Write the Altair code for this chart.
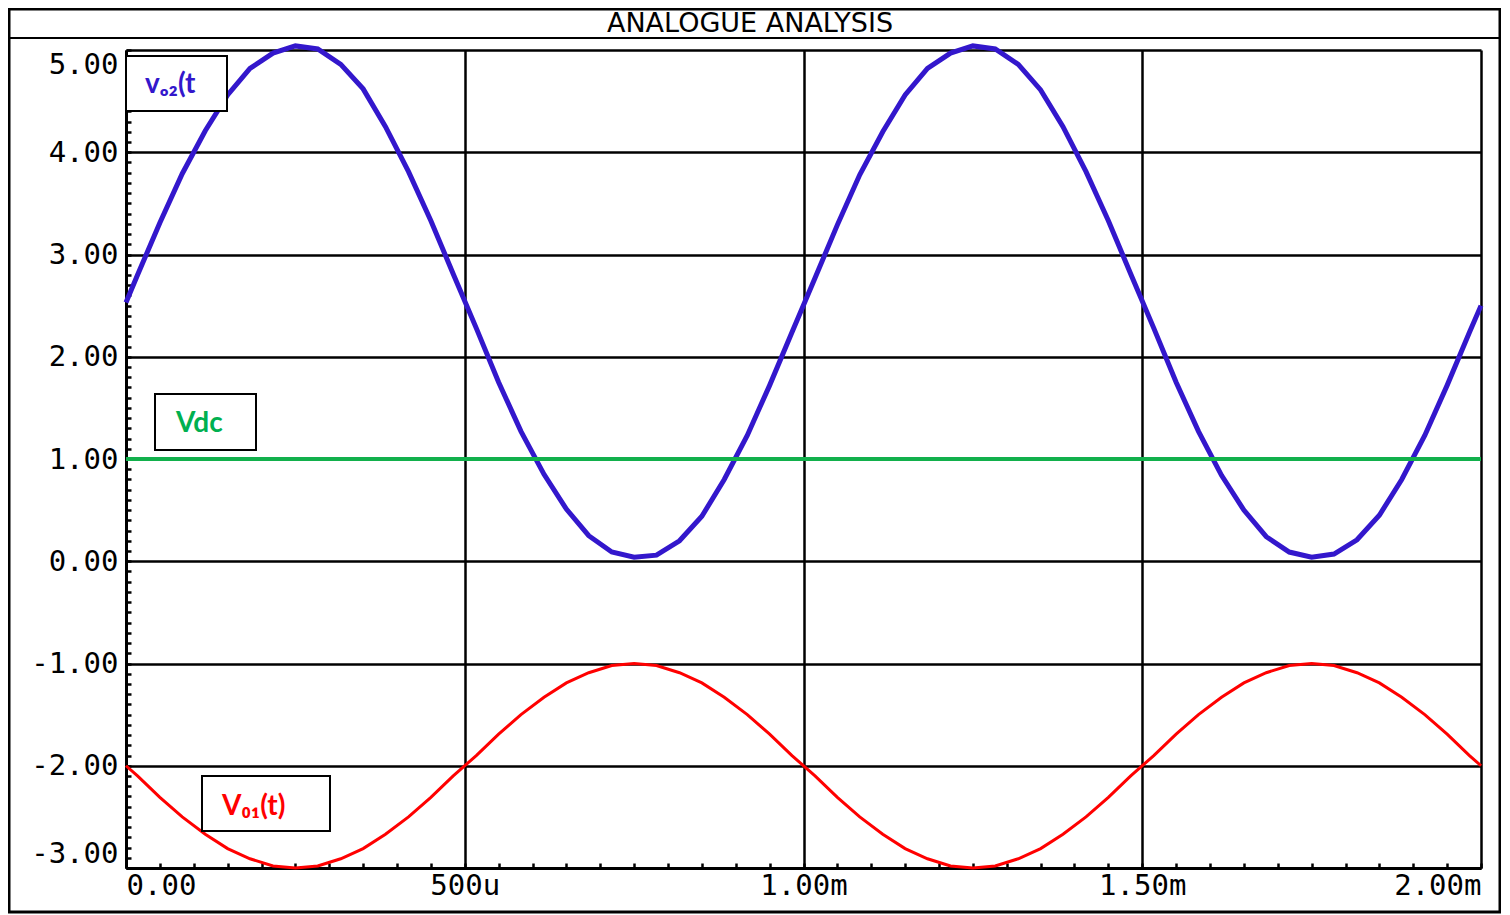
import altair as alt
import pandas as pd

# ---------------- data ----------------
TITLE = "ANALOGUE ANALYSIS"

t_ms = [0.0, 0.017, 0.05, 0.083, 0.117, 0.15, 0.183, 0.217, 0.25, 0.283, 0.317, 0.35, 0.383, 0.417,
        0.45, 0.483, 0.517, 0.55, 0.583, 0.617, 0.65, 0.683, 0.717, 0.75, 0.783, 0.817, 0.85, 0.883,
        0.917, 0.95, 0.983, 1.017, 1.05, 1.083, 1.117, 1.15, 1.183, 1.217, 1.25, 1.283, 1.317, 1.35,
        1.383, 1.417, 1.45, 1.483, 1.517, 1.55, 1.583, 1.617, 1.65, 1.683, 1.717, 1.75, 1.783, 1.817,
        1.85, 1.883, 1.917, 1.95, 1.983, 2.0]

vo2 = [2.53, 2.80, 3.31, 3.79, 4.21, 4.56, 4.82, 4.97, 5.04, 5.01, 4.86, 4.62, 4.25, 3.81,
       3.33, 2.81, 2.28, 1.75, 1.27, 0.85, 0.51, 0.25, 0.09, 0.04, 0.06, 0.20, 0.44, 0.80,
       1.23, 1.72, 2.24, 2.77, 3.29, 3.78, 4.20, 4.56, 4.82, 4.97, 5.04, 5.01, 4.86, 4.61,
       4.25, 3.81, 3.33, 2.81, 2.28, 1.75, 1.27, 0.84, 0.50, 0.24, 0.09, 0.04, 0.07, 0.21,
       0.45, 0.80, 1.23, 1.72, 2.24, 2.50]

vo1 = [-2.00, -2.10, -2.31, -2.50, -2.67, -2.81, -2.91, -2.98, -3.00, -2.98, -2.91, -2.81, -2.67, -2.50,
       -2.31, -2.10, -1.90, -1.69, -1.50, -1.33, -1.19, -1.09, -1.02, -1.00, -1.02, -1.09, -1.19, -1.33,
       -1.50, -1.69, -1.90, -2.10, -2.31, -2.50, -2.67, -2.81, -2.91, -2.98, -3.00, -2.98, -2.91, -2.81,
       -2.67, -2.50, -2.31, -2.10, -1.90, -1.69, -1.50, -1.33, -1.19, -1.09, -1.02, -1.00, -1.02, -1.09,
       -1.19, -1.33, -1.50, -1.69, -1.90, -2.00]

vdc_t = [0.0, 2.0]
vdc = [1.0, 1.0]

x_major = [0, 0.5, 1.0, 1.5, 2.0]
y_major = [-3, -2, -1, 0, 1, 2, 3, 4, 5]
x_minor = [round(0.05 * i, 2) for i in range(41)]
y_minor = [round(-3 + 0.1 * i, 1) for i in range(81)]

LBL_VO2 = "v\u2092\u2082(t"
LBL_VDC = "Vdc"
LBL_VO1 = "V\u2080\u2081(t)"

# ---------------- styling ----------------
BLUE = "#3317cc"
RED = "#ff0000"
GREEN = "#12b04c"
MONO = "DejaVu Sans Mono"
SANS = "Lato, Noto Sans, DejaVu Sans"

df_blue = pd.DataFrame({"t": t_ms, "v": vo2})
df_red = pd.DataFrame({"t": t_ms, "v": vo1})
df_dc = pd.DataFrame({"t": vdc_t, "v": vdc})
one = pd.DataFrame({"title": [TITLE]})

xs = alt.Scale(domain=[0, 2], nice=False, zero=False)
ys = alt.Scale(domain=[-3, 5], nice=False, zero=False)

x_lbl = ("datum.value == 0 ? '0.00' : (datum.value < 1 ? format(datum.value * 1000, 'd') + 'u' "
         ": format(datum.value, '.2f') + 'm')")
y_lbl = "(datum.value < 0 ? '-' : '') + format(abs(datum.value), '.2f')"

x_axis_main = alt.Axis(values=x_major, orient="bottom", grid=True, gridColor="black", gridWidth=2.5,
                       gridOpacity=1, domain=True, domainColor="black", domainWidth=3, ticks=False,
                       labelFlush=True, labelPadding=3, labelFont=MONO, labelFontSize=29,
                       labelColor="black", labelExpr=x_lbl, title=None)
y_axis_main = alt.Axis(values=y_major, orient="left", grid=True, gridColor="black", gridWidth=2.5,
                       gridOpacity=1, domain=True, domainColor="black", domainWidth=3, ticks=False,
                       labelFlush=True, labelFlushOffset=0, labelPadding=8, labelFont=MONO,
                       labelFontSize=29, labelColor="black", labelExpr=y_lbl, title=None)
x_axis_minor = alt.Axis(values=x_minor, orient="bottom", offset=-5, domain=False, labels=False,
                        grid=False, ticks=True, tickSize=5, tickWidth=2.5, tickColor="black", title=None)
y_axis_minor = alt.Axis(values=y_minor, orient="left", offset=-5, domain=False, labels=False,
                        grid=False, ticks=True, tickSize=5, tickWidth=2.5, tickColor="black", title=None)

blue = alt.Chart(df_blue).mark_line(color=BLUE, strokeWidth=5).encode(
    x=alt.X("t:Q", scale=xs, axis=x_axis_main),
    y=alt.Y("v:Q", scale=ys, axis=y_axis_main),
)
green = alt.Chart(df_dc).mark_line(color=GREEN, strokeWidth=4).encode(
    x=alt.X("t:Q", scale=xs, axis=x_axis_minor),
    y=alt.Y("v:Q", scale=ys, axis=y_axis_minor),
)
red = alt.Chart(df_red).mark_line(color=RED, strokeWidth=3).encode(
    x=alt.X("t:Q", scale=xs, axis=None),
    y=alt.Y("v:Q", scale=ys, axis=None),
)

base = alt.Chart(one)


def box(x0, x1, y0, y1):
    return base.mark_rect(fill="white", stroke="black", strokeWidth=2).encode(
        x=alt.value(x0), x2=alt.value(x1), y=alt.value(y0), y2=alt.value(y1))


def label(txt, x, y, color, size):
    return base.mark_text(text=txt, font=SANS, fontWeight="bold", fontSize=size, color=color,
                          align="left", baseline="alphabetic").encode(x=alt.value(x), y=alt.value(y))


box_vo2 = box(0, 101, 6, 61)
box_vdc = box(29, 130, 344, 400)
box_vo1 = box(76, 204, 726, 781)
txt_vo2 = label(LBL_VO2, 19, 43, BLUE, 28)
txt_vdc = label(LBL_VDC, 50, 382, "#00b050", 28)
txt_vo1 = label(LBL_VO1, 96, 765, RED, 28)

frame = base.mark_rect(fill="transparent", stroke="black", strokeWidth=3).encode(
    x=alt.value(-117), x2=alt.value(1374), y=alt.value(-41), y2=alt.value(862))
sep = base.mark_rule(color="black", strokeWidth=2).encode(
    x=alt.value(-117), x2=alt.value(1374), y=alt.value(-12))
title = base.mark_text(font="DejaVu Sans", fontSize=27, color="black", align="center",
                       baseline="middle").encode(x=alt.value(624), y=alt.value(-26), text="title:N")

chart = alt.layer(
    blue, green, red, box_vo2, box_vdc, box_vo1, txt_vo2, txt_vdc, txt_vo1, frame, sep, title
).resolve_axis(x="independent", y="independent").properties(
    width=1355, height=818,
    autosize=alt.AutoSizeParams(type="none"),
    padding={"left": 118, "top": 42, "right": 20, "bottom": 46},
    background="white",
).configure_view(stroke=None)

chart.save("out.html", embed_options={"renderer": "svg", "actions": False})
